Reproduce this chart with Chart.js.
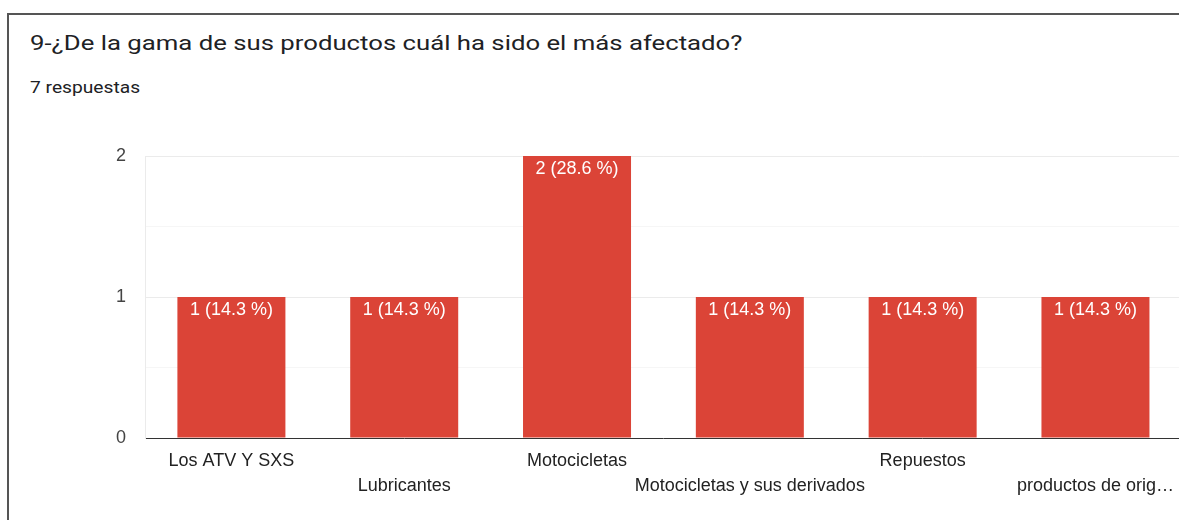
<!DOCTYPE html>
<html>
<head>
<meta charset="utf-8">
<script src="https://cdn.jsdelivr.net/npm/chart.js@4.4.1/dist/chart.umd.min.js"></script>
<style>
  html, body { margin: 0; padding: 0; background: #fff; overflow: hidden; }
  #frame {
    position: absolute; left: 7px; top: 13px; width: 1200px; height: 520px;
    border-top: 2px solid #555; border-left: 2px solid #555;
  }
  #title {
    position: absolute; left: 30px; top: 31px; margin: 0; white-space: nowrap;
    font: 21px Roboto, Arial, sans-serif; color: #202124;
    transform: scaleX(1.225); transform-origin: left top;
  }
  #sub {
    position: absolute; left: 30px; top: 77px; white-space: nowrap;
    font: 17px Roboto, Arial, sans-serif; color: #202124;
    transform: scaleX(1.13); transform-origin: left top;
  }
  #wrap { position: absolute; left: 0; top: 0; width: 1184px; height: 520px; }
</style>
</head>
<body>
<div id="frame"></div>
<div id="title">9-¿De la gama de sus productos cuál ha sido el más afectado?</div>
<div id="sub">7 respuestas</div>
<div id="wrap"><canvas id="chart"></canvas></div>
<script>
// datos de la encuesta
var categorias = ['Los ATV Y SXS', 'Lubricantes', 'Motocicletas', 'Motocicletas y sus derivados', 'Repuestos', 'productos de orig…'];
var respuestas = [1, 1, 2, 1, 1, 1];
var porcentajes = ['14.3', '14.3', '28.6', '14.3', '14.3', '14.3'];
var yTicks = [0, 1, 2];

// etiqueta dentro de cada barra
var barLabels = {
    id: 'barLabels',
    afterDatasetsDraw: function (chart) {
        var ctx = chart.ctx;
        var meta = chart.getDatasetMeta(0);
        ctx.save();
        ctx.font = '18px "Liberation Sans", Arial, sans-serif';
        ctx.fillStyle = '#ffffff';
        ctx.textAlign = 'center';
        ctx.textBaseline = 'middle';
        meta.data.forEach(function (bar, i) {
            ctx.fillText(respuestas[i] + ' (' + porcentajes[i] + ' %)', bar.x, bar.y + 13);
        });
        ctx.restore();
    }
};

var ctx = document.getElementById('chart').getContext('2d');
new Chart(ctx, {
    type: 'bar',
    data: {
        labels: categorias,
        datasets: [{
            data: respuestas,
            backgroundColor: '#db4437',
            borderWidth: 0,
            barPercentage: 0.625,
            categoryPercentage: 1
        }]
    },
    options: {
        responsive: true,
        maintainAspectRatio: false,
        animation: false,
        layout: { padding: { top: 156, left: 0, right: 0, bottom: 0 } },
        plugins: {
            legend: { display: false },
            tooltip: { enabled: false }
        },
        scales: {
            x: {
                afterFit: function (s) { s.height = 82; },
                grid: { display: false, drawTicks: false },
                border: { display: true, color: '#333333', width: 1 },
                ticks: {
                    autoSkip: false,
                    maxRotation: 0,
                    padding: 10,
                    color: '#222222',
                    font: { family: '"Liberation Sans", Arial, sans-serif', size: 18, lineHeight: 1.42 },
                    callback: function (v, i) {
                        return i % 2 ? ['', categorias[i]] : categorias[i];
                    }
                }
            },
            y: {
                min: 0,
                max: 2,
                afterFit: function (s) { s.width = 145; },
                grid: {
                    drawTicks: false,
                    color: function (c) {
                        if (c.tick.value === 0) return 'rgba(0,0,0,0)';
                        return yTicks.indexOf(c.tick.value) >= 0 ? '#ebebeb' : '#f6f6f6';
                    }
                },
                border: { display: true, color: '#ebebeb' },
                ticks: {
                    stepSize: 0.5,
                    padding: 19,
                    color: '#444444',
                    font: { family: '"Liberation Sans", Arial, sans-serif', size: 18 },
                    callback: function (v) { return yTicks.indexOf(v) >= 0 ? v : ''; }
                }
            }
        }
    },
    plugins: [barLabels]
});
</script>
</body>
</html>
